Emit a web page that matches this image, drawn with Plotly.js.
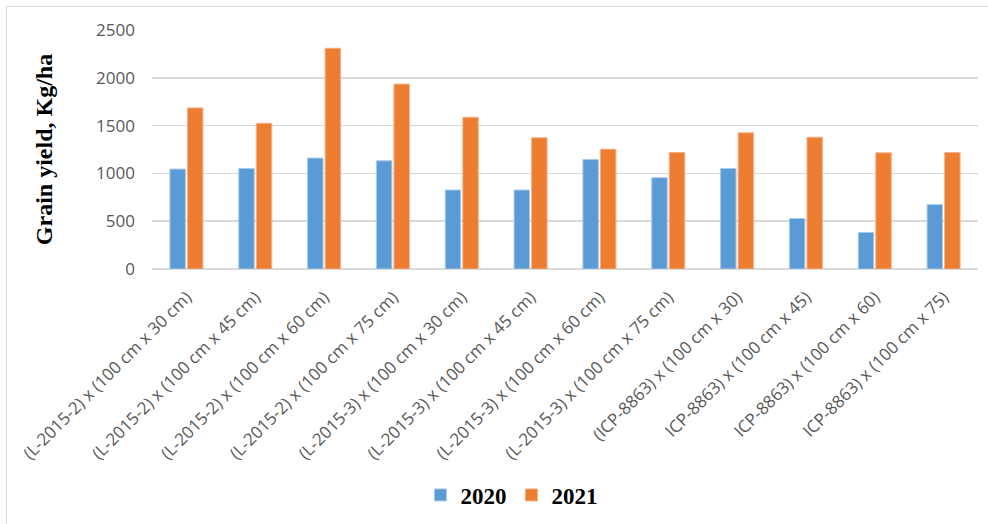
<!DOCTYPE html>
<html>
<head>
<meta charset="utf-8">
<script src="https://cdn.plot.ly/plotly-3.0.1.min.js"></script>
<style>
  html, body { margin: 0; padding: 0; background: #fff; }
  #wrap { position: relative; width: 988px; height: 524px; overflow: hidden; }
  #chart { position: absolute; left: 0; top: 0; width: 988px; height: 524px; }
  .frameL { position: absolute; left: 6px; top: 6px; width: 1px; height: 530px; background: #d9d9d9; }
  .frameT { position: absolute; left: 6px; top: 6px; width: 990px; height: 1px; background: #d9d9d9; }
</style>
</head>
<body>
<div id="wrap">
  <div id="chart"></div>
  <div class="frameL"></div>
  <div class="frameT"></div>
</div>
<script>
const categories = [
  "(L-2015-2) x (100 cm x 30 cm)",
  "(L-2015-2) x (100 cm x 45 cm)",
  "(L-2015-2) x (100 cm x 60 cm)",
  "(L-2015-2) x (100 cm x 75 cm)",
  "(L-2015-3) x (100 cm x 30 cm)",
  "(L-2015-3) x (100 cm x 45 cm)",
  "(L-2015-3) x (100 cm x 60 cm)",
  "(L-2015-3) x (100 cm x 75 cm)",
  "(ICP-8863) x (100 cm x 30)",
  "ICP-8863) x (100 cm x 45)",
  "ICP-8863) x (100 cm x 60)",
  "ICP-8863) x (100 cm x 75)"
];
const yield2020 = [1045, 1052, 1160, 1132, 826, 826, 1146, 955, 1052, 528, 382, 674];
const yield2021 = [1685, 1524, 2309, 1934, 1587, 1372, 1253, 1219, 1424, 1378, 1215, 1219];
const yTicks = [0, 500, 1000, 1500, 2000, 2500];
const seriesNames = ["2020", "2021"];

const traces = [
  {
    type: "bar", name: seriesNames[0], x: categories, y: yield2020,
    marker: { color: "#5B9BD5", line: { color: "#a9c9ea", width: 1 } },
    hoverinfo: "x+y"
  },
  {
    type: "bar", name: seriesNames[1], x: categories, y: yield2021,
    marker: { color: "#ED7D31", line: { color: "#f4b183", width: 1 } },
    hoverinfo: "x+y"
  }
];

const layout = {
  width: 988, height: 524,
  margin: { l: 152, r: 10, t: 30, b: 254 },
  paper_bgcolor: "rgba(0,0,0,0)",
  plot_bgcolor: "#ffffff",
  barmode: "group",
  bargap: 0.49,
  bargroupgap: 0.12,
  showlegend: true,
  legend: {
    orientation: "h",
    x: 0.325, xanchor: "left",
    y: -0.9375, yanchor: "middle",
    font: { family: "Liberation Serif, Times New Roman, serif", size: 23, color: "#000", weight: "bold" },
    bgcolor: "rgba(0,0,0,0)"
  },
  xaxis: {
    type: "category",
    tickangle: -45,
    tickfont: { family: "Open Sans, sans-serif", size: 17, color: "#595959" },
    showgrid: false,
    showline: false,
    ticks: "",
    ticklabelstandoff: 14,
    automargin: false
  },
  yaxis: {
    range: [0, 2500],
    tickvals: yTicks,
    ticktext: yTicks.map(String),
    tickfont: { family: "Open Sans, sans-serif", size: 17, color: "#595959" },
    gridcolor: "#d9d9d9",
    gridwidth: 1.5,
    zeroline: true,
    zerolinecolor: "#d9d9d9",
    zerolinewidth: 1.5,
    showline: false,
    ticks: "",
    ticklabelstandoff: 16,
    automargin: false,
    title: {
      text: "<b>Grain yield, Kg/ha</b>",
      font: { family: "Liberation Serif, Times New Roman, serif", size: 24, color: "#000" },
      standoff: 36
    }
  }
};

Plotly.newPlot("chart", traces, layout, { displayModeBar: false, staticPlot: true });
</script>
</body>
</html>
